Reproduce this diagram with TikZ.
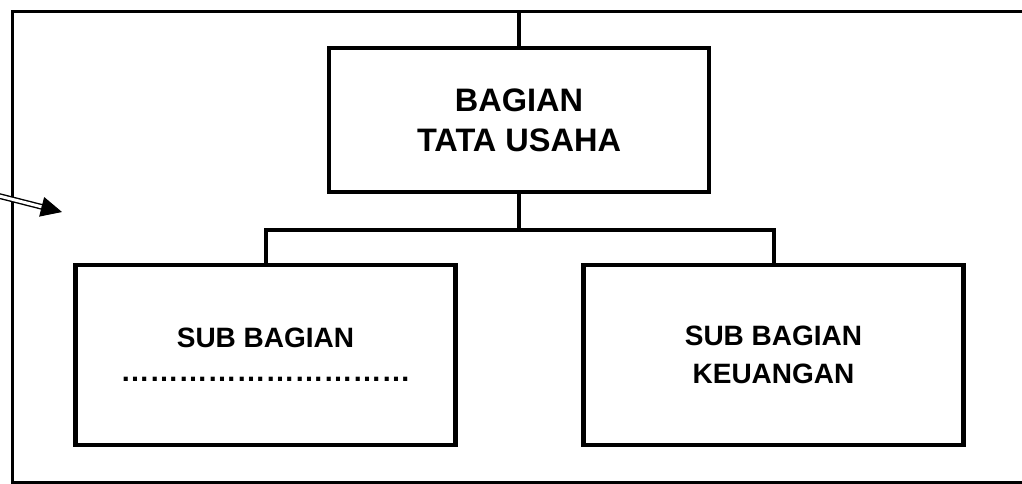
\documentclass[tikz,border=0pt]{standalone}
\usepackage{fontspec}
\setmainfont{Liberation Sans}
\usetikzlibrary{arrows.meta,calc}
\newcommand\ellip{…}

\begin{document}
\begin{tikzpicture}[x=1pt,y=-1pt,
    box/.style={draw=black,line width=4.3pt,minimum width=380pt,align=center},
    link/.style={line width=4pt}]
  \useasboundingbox (0,0) rectangle (1022,483);
  \clip (0,0) rectangle (1022,483);
  % outer frame
  \draw[line width=3pt] (12,11) rectangle (1060,482);
  \coordinate (top) at (519,11);
  % boxes
  \node[box,minimum height=144pt,font=\bfseries\fontsize{32.5}{40}\selectfont] (tu) at (519,120) {BAGIAN\\TATA USAHA};
  \node[box,minimum height=180pt,font=\bfseries\fontsize{28}{38}\selectfont] (sub) at (265.5,355)
    {SUB BAGIAN\\[-4pt]{\fontsize{29}{30}\selectfont\ellip\ellip\ellip\ellip\ellip\ellip\ellip\ellip\ellip\ellip}};
  \node[box,minimum height=180pt,font=\bfseries\fontsize{28}{38}\selectfont] (keu) at (773.5,355) {SUB BAGIAN\\KEUANGAN};
  % connectors
  \draw[link] (tu.north) -- (tu.north |- top);
  \draw[link] (tu.south) -- ++(0,36) -| (sub.north);
  \draw[link] (tu.south) ++(0,36) -| (keu.north);
  % arrow
  \coordinate (tail) at (-40,186);
  \coordinate (tip) at (62,212);
  \draw[line width=1.4pt,double,double distance=3pt] (tail) -- ($(tip)!18pt!(tail)$);
  \draw[line width=1pt,-{Triangle[length=21pt,width=20pt]}] ($(tip)!21pt!(tail)$) -- (tip);
\end{tikzpicture}
\end{document}
